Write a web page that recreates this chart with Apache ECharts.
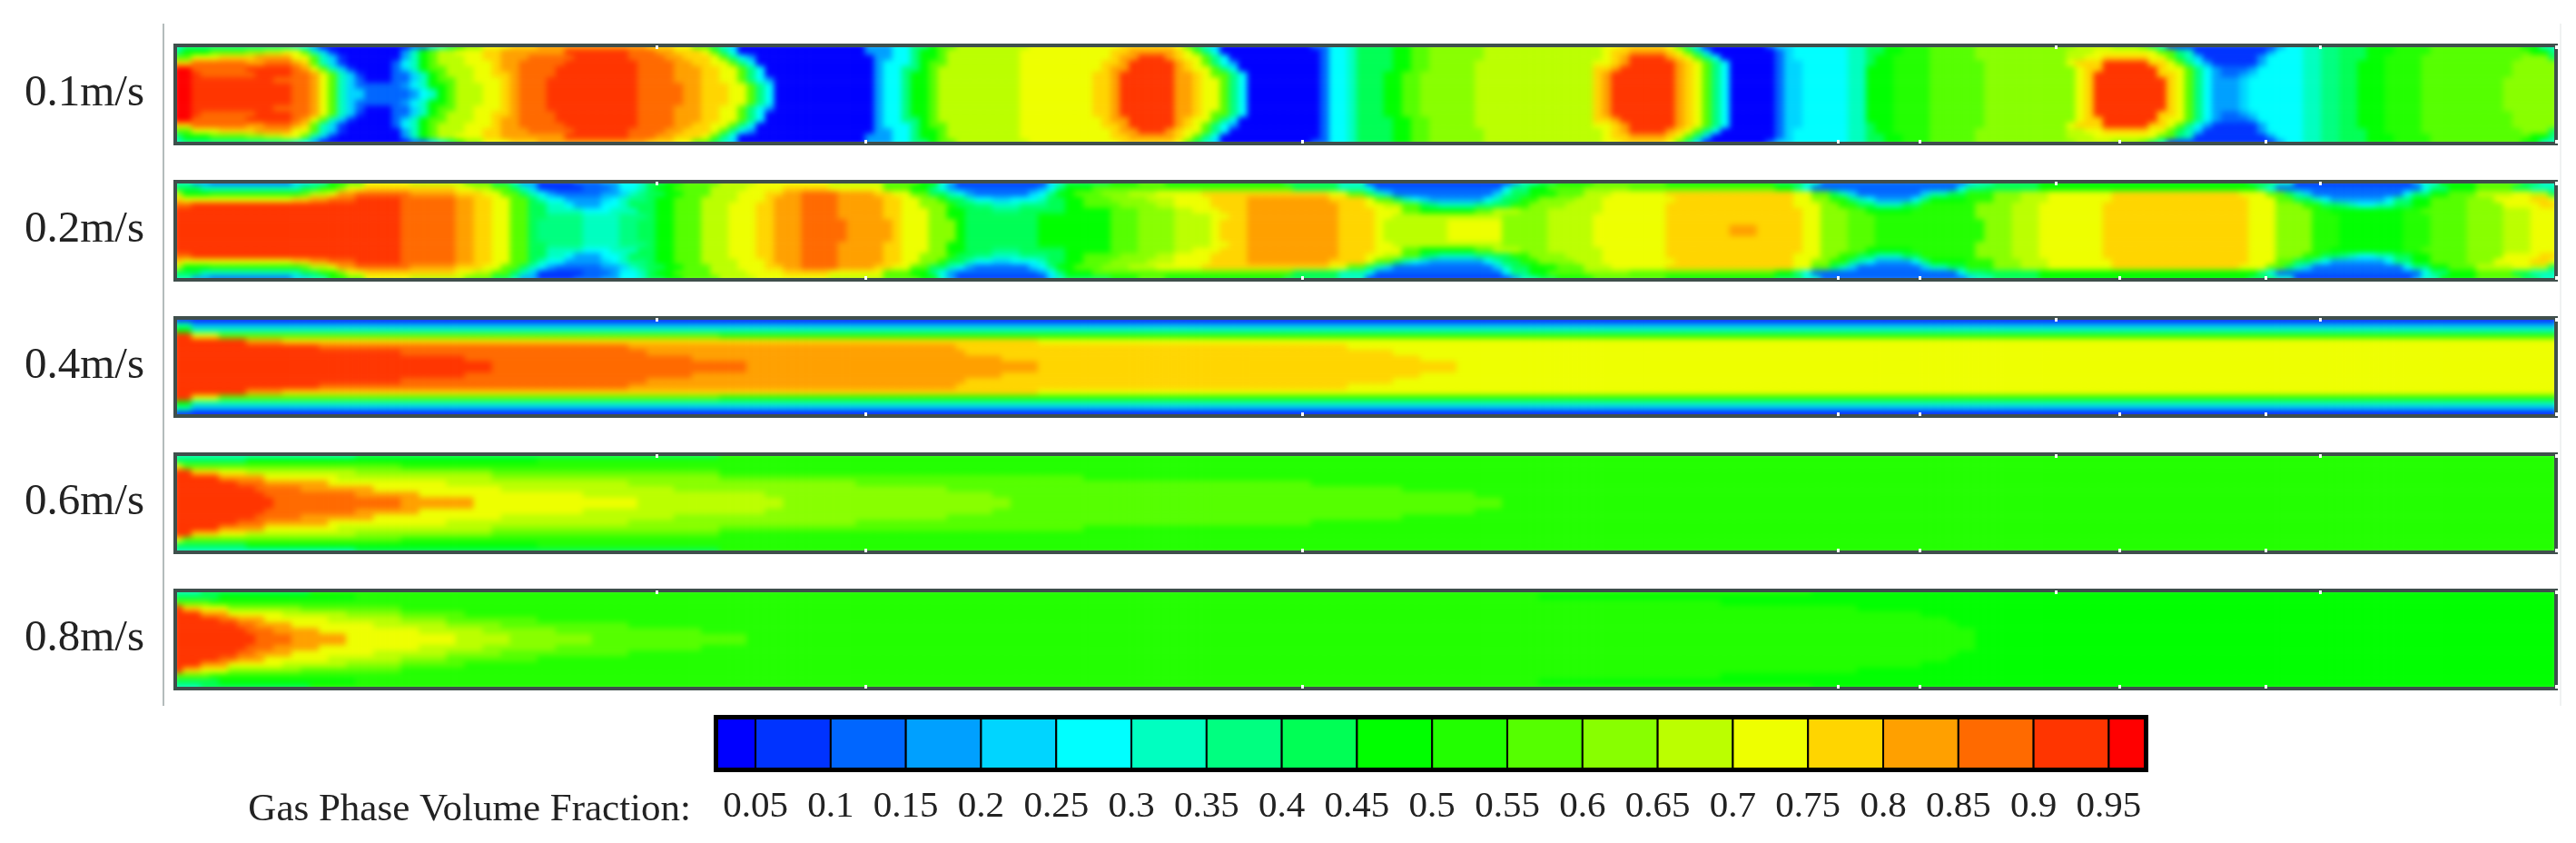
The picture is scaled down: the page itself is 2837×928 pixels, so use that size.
<!DOCTYPE html>
<html>
<head>
<meta charset="utf-8">
<title>Gas Phase Volume Fraction</title>
<script src="https://cdn.jsdelivr.net/npm/echarts@6/dist/echarts.min.js"></script>
<style>
html,body{margin:0;padding:0;background:#fff}
#field,#frame{position:absolute;left:0;top:0;width:2837px;height:928px}
/* the reference is a soft screenshot, so the contour cells get blurred and cut back to the pipes */
#field{filter:blur(3px);clip-path:path('M191 48H2817V160H191Z M191 198H2817V310H191Z M191 348H2817V460H191Z M191 498H2817V610H191Z M191 648H2817V760H191Z')}
</style>
</head>
<body>
<div id="field"></div>
<div id="frame"></div>
<script>
// contour bands, a = below 0.05 ... t = above 0.95
const bandLetters = 'abcdefghijklmnopqrst';
const bandColors = ['#0000ff','#0033ff','#0066ff','#00a0ff','#00d5ff','#00ffff','#00ffc0','#00ff80','#00ff55','#00ff00',
  '#22ff00','#55ff00','#88ff00','#bbff00','#eeff00','#ffd500','#ffa000','#ff6a00','#ff3500','#ff0000'];
const tickValues = [0.05,0.1,0.15,0.2,0.25,0.3,0.35,0.4,0.45,0.5,0.55,0.6,0.65,0.7,0.75,0.8,0.85,0.9,0.95];
const speedLabels = ['0.1m/s','0.2m/s','0.4m/s','0.6m/s','0.8m/s'];
const COLS = 262;

// each row runs wall to centre; token = band + pipe column where that band stops
const pipe01 = [
 'g1 h13 g14 f15 d16 a26 c28 e29 g30 i31 k32 m34 o37 p40 q52 p55 o57 l59 i60 g61 e62 a76 d79 f81 h83 j84 l86 n94 o104 p110 o111 l112 i113 g114 e115 a125 c127 f129 g130 i134 j136 l138 m144 n157 o159 p164 o165 l166 h167 e168 a175 c176 e178 f184 g186 i188 j190 k193 l198 m209 n213 m216 l217 i218 g219 b231 d232 f234 g236 h238 i241 j244 k248 l258 j260 g262',
 'h1 j4 l8 m10 n12 o14 l15 g16 e17 b18 a25 d26 g27 j28 l29 n31 o34 p36 q43 s50 r53 q55 p58 o59 l60 h61 f62 a76 d79 f81 h82 j84 l85 n93 o103 p105 q110 p111 o112 l113 h114 f115 a126 c127 f129 g130 i134 j136 l138 m144 n157 o158 p160 q164 p165 o166 l167 h168 e169 a176 c177 e178 f184 g186 i188 j190 k193 l198 m208 n211 o218 l220 h221 g222 b230 d231 f234 g236 h238 i241 j244 k248 l259 j261 h262',
 'l2 o5 p9 q13 o15 l16 g17 e18 b19 a25 d26 g27 j28 l29 n32 o34 p36 q39 r44 s50 r54 q56 p59 o60 l61 h62 f63 d64 a77 d79 f81 h82 j84 l85 n93 o103 p104 q106 s109 q110 p111 o113 l114 h115 f116 a126 c127 f129 g130 i134 j136 l138 m144 n157 o158 p159 q160 s164 q165 p166 o167 l168 h169 f170 a176 c177 e178 f184 g186 i187 j189 k193 l198 m208 n210 o212 p217 o219 l220 i221 g222 e223 b229 d230 f234 g236 h238 i241 j243 k247 l258 m261 i262',
 'p2 r8 q10 r13 q14 p15 l16 g17 e18 b19 a24 c25 f26 g27 j28 l29 n32 o35 p36 q38 r43 s51 r55 q57 p59 o61 l62 h63 f64 a77 d78 f81 h82 j83 l85 n93 o102 p104 q105 s110 q111 p112 o113 l114 h115 f116 d117 a126 c127 f129 g130 i134 j136 l138 m143 n156 o158 p159 q160 s165 q166 p167 o168 l169 h170 f171 a176 c177 e179 f184 g186 i187 j189 k193 l199 m208 o209 p212 s217 p219 o220 l221 h222 f223 d224 b229 d230 f234 g236 h238 i240 j243 k247 l257 m262',
 't2 r8 s13 r14 q15 o16 l17 g18 e19 b20 a24 c25 e26 g27 j28 l30 n33 o35 p36 q38 r42 s51 r55 q58 p60 o62 l63 h64 f65 a77 d78 f80 h82 j83 l84 n93 o102 p103 q105 s110 q111 p112 o114 l115 h116 f117 a126 c127 f129 g130 i134 j136 l138 m143 n156 p158 q159 s165 q166 p167 o168 l169 h170 f171 a176 c177 e179 f184 g186 j189 k193 l199 m209 o210 p212 s218 p219 o221 l222 h223 f224 d225 c228 d229 f234 g236 h238 i240 j243 k247 l257 m262',
 't2 s3 r9 s13 r15 q16 o17 l18 g19 e20 b21 a24 c26 e27 g28 j29 l30 n33 o35 p37 q38 r42 s51 r55 q58 p60 o62 l63 h64 f65 a77 d78 f80 h81 j83 l84 n93 o101 p103 q104 s110 q112 p113 o114 l116 h117 f118 a126 c127 f129 g130 i133 j135 l137 m143 n156 p157 q158 s165 q166 p167 o168 l169 h170 f171 a176 c177 e179 f184 g186 j189 k193 l199 m209 o210 p211 s218 p220 o221 l222 h223 f224 d225 c227 d228 e229 f234 g236 h238 i240 j243 k247 l257 m262',
 't2 s11 r15 q16 o17 l18 g19 e20 c21 a24 c26 e27 g28 j29 l31 n33 o36 p37 q38 r41 s51 r55 q58 p60 o62 l63 h64 f65 d66 a77 d78 f80 h81 j83 l84 n93 o101 p103 q104 s110 q112 p113 o115 l116 h117 f118 a126 c127 f129 g130 i133 j135 l137 m143 n156 p157 q158 s165 q166 p167 o168 l169 h170 f171 a176 c177 e179 f184 g186 j189 k193 l199 m209 o210 p211 s219 p220 o221 l222 h223 f224 d227 e228 f234 g236 h238 i240 j243 k247 l256 m262',
 't2 s13 r15 q16 o17 l18 g19 e20 c25 d26 f27 g28 j30 l31 n34 o36 p37 q38 r41 s51 r56 q58 p61 o63 l64 h65 f66 a77 d78 f80 h81 j83 l84 n93 o101 p103 q104 s110 q112 p113 o115 l116 h117 f118 a126 c127 f129 g130 i133 j135 l137 m143 n156 p157 q158 s165 q166 p167 o168 l169 h170 f171 a176 c177 e179 f184 g186 j189 k193 l199 m209 o210 p211 s219 p220 o221 l222 h223 f224 d227 e228 f234 g236 h238 i240 j243 k247 l256 m262',
 't2 s13 r15 q16 o17 l18 g19 e21 c26 d27 f28 g29 j30 l31 n34 o36 p37 q38 r41 s51 r56 q58 p61 o63 l64 h65 f66 a77 d78 f80 h81 j83 l84 n93 o101 p103 q104 s110 q112 p113 o115 l116 h117 f118 a126 c127 f129 g130 i133 j135 l137 m143 n156 p157 q158 s165 q166 p167 o168 l169 h170 f171 a176 c177 e179 f184 g186 j189 k193 l199 m209 o210 p211 s219 p220 o221 l222 h223 f224 d227 e228 f234 g236 h238 i240 j243 k247 l256 m262'
];
const pipe02 = [
 'g2 d4 c13 e15 g17 j19 l21 o26 n32 l35 i37 g38 d40 b44 c47 d49 f51 g52 i54 j56 l60 n64 o72 n78 l82 j84 g85 d86 b96 e97 g98 i103 j106 l109 j122 i128 g131 b147 d148 g150 i152 j156 l164 j176 i179 g181 c197 e198 g200 i205 j228 i231 g233 b246 d247 g249 j253 l258 i260 g262',
 'i3 g14 i16 k18 m19 o21 p31 o33 n35 l37 i38 g39 e40 b45 c48 d49 f51 g52 i53 j55 l59 n63 o67 p72 o78 l81 j83 h84 f85 d86 c95 d96 f97 h98 j101 l123 i128 g131 f132 c146 f147 h149 j151 l155 m160 l176 j178 h179 f180 c196 f197 h199 i205 j229 h230 f231 c247 f248 h250 j253 l257 i259 g262',
 'n1 j4 k14 l15 n17 o18 q20 r26 q31 p34 o36 l38 i39 g40 f41 d42 c47 d49 e50 g51 h52 i54 j56 l59 n62 o65 p67 q69 r73 q77 p79 o81 l83 i85 g86 f87 d88 c94 e95 f96 h97 j99 l102 m105 n108 o113 p127 o129 l131 i132 g133 e134 c145 e146 g147 i149 j152 l155 n158 o164 p178 o180 l182 i183 g184 e185 c192 e193 g195 i197 k200 m203 n206 o213 p227 o230 l232 i233 g234 e235 c245 f246 h248 j250 l253 n257 o259 n261 i262',
 'p1 o13 p15 q17 r20 s25 r31 q33 p35 o37 l39 i40 g41 f43 d47 e48 f49 g50 h52 i53 j55 l58 n62 o65 p66 q69 r73 q78 p80 o82 m84 k85 i87 g88 f90 e92 f95 g96 i98 j100 l103 m107 n110 o114 p118 q127 p131 o132 l134 i135 g136 f137 e138 d144 f145 g146 i148 k150 m154 n157 o165 p178 o180 m182 k184 h185 g186 f187 d191 f192 h193 j197 k200 m203 n206 o213 p228 o231 l233 i235 g236 f237 d243 f244 h246 j248 l252 m255 o259 p261 o262',
 'r2 s25 r31 q33 p35 o37 l39 i41 g43 f44 d47 f49 g50 i53 j55 l58 n61 o64 p66 q69 r73 q78 p80 o82 m85 k86 i88 h90 g93 h96 i98 j100 l104 m108 n110 o114 p118 q128 p131 o133 n135 l137 i138 h139 g143 h145 i147 k149 m153 n157 o164 p178 o181 m183 k185 i187 g190 i192 k198 m202 n205 o212 p228 o231 m234 k236 i238 h239 g240 f242 g244 i246 j248 l252 m256 o260 p262',
 's25 r31 q33 p35 o37 l39 i41 g45 f48 g51 i53 j55 l58 n61 o64 p66 q69 r73 q78 p80 o83 m85 j87 i90 h93 i98 j103 l106 m110 n112 o115 p118 q128 p132 o135 l137 j143 l145 n148 m151 n157 o164 p179 o181 m184 l186 j191 k198 m202 n205 o212 p228 o231 m235 k237 j245 k247 l252 m256 n259 o262',
 's25 r31 q33 p35 o37 l39 i41 h45 g49 h52 i53 j55 l58 n61 o64 p66 q69 r73 q78 p80 o83 m85 j87 i95 j103 l106 m110 n114 o116 p118 q128 p132 o134 n146 m151 n156 o164 p179 o181 m184 l187 k198 m202 n205 o212 p228 o231 m235 k238 j245 k248 l252 m256 n259 o262',
 's25 r31 q33 p35 o37 l39 i40 h45 g49 h51 i53 j55 l58 n61 o64 p66 q69 r74 q79 p80 o83 m86 j87 i95 j103 l106 m110 n114 o115 p118 q128 p132 o133 n140 o146 m151 n156 o164 p179 o181 m184 l187 k199 m202 n205 o212 p228 o231 m235 k238 j245 k248 l252 m256 n259 o262',
 's25 r31 q33 p35 o37 l39 i40 h45 g49 h51 i53 j55 l58 n61 o64 p66 q69 r74 q79 p80 o83 m86 j87 i95 j103 l106 m110 n114 o115 p118 q128 p132 o133 n140 o146 m151 n156 o164 p171 q174 p179 o181 m184 l187 k199 m202 n205 o212 p228 o231 m235 k238 j245 k248 l252 m256 n259 o262'
];
const pipe03 = [
 'a262',
 'g2 d262',
 'j2 g262',
 's2 o5 l60 k262',
 's8 q12 p95 o262',
 's16 r50 q86 p129 o262',
 's25 r52 q87 p134 o262',
 's32 r57 q91 p137 o262',
 's35 r63 q95 p141 o262'
];
const pipe04 = [
 'g20 i60 k262',
 'i8 j40 k262',
 'o1 l25 k262',
 's2 p5 o8 n20 m35 l60 k262',
 's5 q10 o18 n35 m60 l100 k262',
 's7 r10 q17 o30 n50 m75 l125 k262',
 's9 r14 q22 o36 n55 m85 l135 k262',
 's10 r20 q27 o45 n65 m90 l143 k262',
 's11 r25 q33 o51 n67 m92 l146 k262'
];
const pipe05 = [
 'g3 i15 k180 j262',
 'i5 j20 k150 j262',
 'l4 k170 j262',
 's1 p3 o6 m14 l25 k185 j262',
 's3 q6 o12 n19 m25 l32 k192 j262',
 's5 r7 q10 o17 n25 m30 l40 k195 j262',
 's7 r9 q13 o22 n30 m36 l50 k196 j262',
 's8 r11 q16 o27 n34 m42 l58 k198 j262',
 's9 r13 q19 o31 n37 m46 l63 k198 j262'
];
// white notches in the pipe outline, by column
const notchesTop = [53,207,236];
const notchesBottom = [76,124,183,192,214,230];

const pipes = [pipe01,pipe02,pipe03,pipe04,pipe05];
const pipeTops = [48,198,348,498,648];
const bandValue = i => (i+0.5)*0.05;

function decodeRow(row){
    const cells = [];
    row.split(' ').forEach(t=>{
        const v = bandValue(bandLetters.indexOf(t[0]));
        const end = +t.slice(1);
        while(cells.length<end) cells.push(v);
    });
    while(cells.length<COLS) cells.push(cells[cells.length-1]);
    return cells;
}

const colNames = Array.from({length:COLS},(_,i)=>i);

// contour fields
const fieldGrids=[], fieldX=[], fieldY=[], fieldSeries=[];
pipes.forEach((half,p)=>{
    const rows = half.concat(half.slice().reverse());
    const data = [];
    rows.forEach((row,y)=>decodeRow(row).forEach((v,x)=>data.push([x,y,v])));
    fieldGrids.push({left:191,top:pipeTops[p],width:2626,height:112});
    fieldX.push({type:'category',gridIndex:p,data:colNames,show:false});
    fieldY.push({type:'category',gridIndex:p,inverse:true,data:rows.map((_,i)=>i),show:false});
    fieldSeries.push({type:'heatmap',xAxisIndex:p,yAxisIndex:p,data,progressive:0,silent:true});
});
echarts.init(document.getElementById('field')).setOption({
    animation:false,
    grid:fieldGrids,
    xAxis:fieldX,
    yAxis:fieldY,
    visualMap:{
        type:'piecewise',show:false,dimension:2,
        pieces:bandColors.map((color,i)=>({gte:i*0.05,lt:(i+1)*0.05,color}))
    },
    series:fieldSeries
});

// outlines, labels and the colour scale go on top, unblurred
const grids=[], xAxes=[], yAxes=[], titles=[];
pipes.forEach((half,p)=>{
    grids.push({show:true,left:193,top:pipeTops[p]+2,width:2622,height:108,
        backgroundColor:'transparent',borderColor:'#3f4f4c',borderWidth:4});
    const wallAxis = (position,notches)=>({
        type:'category',gridIndex:p,position,data:colNames,
        axisLine:{show:false},axisLabel:{show:false},splitLine:{show:false},
        axisTick:{show:true,inside:true,length:4,interval:i=>notches.includes(i),lineStyle:{color:'#fff',width:3}}
    });
    xAxes.push(wallAxis('bottom',notchesBottom),wallAxis('top',notchesTop));
    yAxes.push({type:'category',gridIndex:p,data:['a'],show:false});
    titles.push({text:speedLabels[p],left:22,top:pipeTops[p]+50,
        textVerticalAlign:'middle',textStyle:{fontFamily:'Liberation Serif',fontWeight:'normal',fontSize:49,color:'#222'}});
});

const legendGrid = grids.length;
grids.push({show:true,left:790,top:791,width:1572,height:55,backgroundColor:'transparent',borderColor:'#000',borderWidth:8});
xAxes.push({type:'value',gridIndex:legendGrid,min:0.0246,max:0.9739,
    axisLine:{show:false},axisTick:{show:false},splitLine:{show:false},
    axisLabel:{customValues:tickValues,margin:22,fontFamily:'Liberation Serif',fontSize:41,color:'#222',hideOverlap:false}});
yAxes.push({type:'value',gridIndex:legendGrid,min:0,max:1,show:false});
const legendCells = bandColors.map((c,i)=>[
    i===0?0.0246:tickValues[i-1],
    i===bandColors.length-1?0.9739:tickValues[i],
    i]);
const legendSeries = {type:'custom',xAxisIndex:xAxes.length-1,yAxisIndex:yAxes.length-1,data:legendCells,silent:true,
    encode:{x:[0,1]},
    renderItem:(params,api)=>{
        const a = api.coord([api.value(0),0]);
        const b = api.coord([api.value(1),1]);
        return {type:'rect',shape:{x:a[0],y:b[1],width:b[0]-a[0],height:a[1]-b[1]},
            style:{fill:bandColors[api.value(2)],stroke:'#000',lineWidth:2}};
    }};
titles.push({text:'Gas Phase Volume Fraction:',right:2837-766,top:887,textVerticalAlign:'middle',
    textStyle:{fontFamily:'Liberation Serif',fontWeight:'normal',fontSize:43,color:'#222'}});

echarts.init(document.getElementById('frame')).setOption({
    animation:false,
    title:titles,
    grid:grids,
    xAxis:xAxes,
    yAxis:yAxes,
    graphic:[
        {type:'line',silent:true,shape:{x1:180,y1:26,x2:180,y2:777},style:{stroke:'#b4bcbc',lineWidth:2}},
        {type:'line',silent:true,shape:{x1:2820,y1:26,x2:2820,y2:777},style:{stroke:'#f0f2f2',lineWidth:2}}
    ],
    series:[legendSeries]
});
</script>
</body>
</html>
